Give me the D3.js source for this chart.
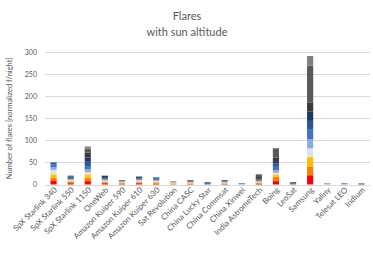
<!DOCTYPE html>
<html>
<head>
<meta charset="utf-8">
<script src="https://cdn.jsdelivr.net/npm/d3@7"></script>
<style>
body{margin:0;background:#fff;}
text{font-family:Lato, "Open Sans", sans-serif;fill:#595959;}
</style>
</head>
<body>
<svg id="chart"></svg>
<script>
var w = 373, h = 259;
var categories = ["SpX Starlink 340","SpX Starlink 550","SpX Starlink 1150","OneWeb","Amazon Kuiper 590",
	"Amazon Kuiper 610","Amazon Kuiper 630","Sat Revolution","China CASC","China Lucky Star","China Commsat",
	"China Xinwei","India AstromeTech","Boing","LeoSat","Samsung","Yaliny","Telesat LEO","Iridium"];
// sun altitude bins, bottom to top
var bins = ["b1","b2","b3","b4","b5","b6","b7","b8","b9","b10","b11"];
var colors = ["#ff0000","#ff8000","#ffc000","#dae3f3","#8faadc","#4472c4","#2f5597","#1f3864","#3a3a3a","#595959","#808080"];
var b1  = [8, 3, 7.6, 3, 1, 3, 2, 0.5, 1, 0, 1, 0, 2, 7.6, 0, 21, 0, 0, 0];
var b2  = [7, 3, 7.6, 2, 2, 2, 2, 1, 1, 0, 1, 0, 1.5, 9.8, 0, 20, 0, 0, 0];
var b3  = [8, 2, 7.6, 2, 2, 2, 2, 1.5, 1.5, 0, 1.5, 0, 1.5, 5.3, 0, 21, 0, 0, 0];
var b4  = [10, 2, 5.3, 2, 1, 2, 2, 1, 1, 0, 1, 0, 1.5, 3.8, 0, 20, 0, 0, 0];
var b5  = [6, 2, 6, 2, 1, 2, 2, 1.5, 1, 0, 1, 1, 1.5, 6, 0, 20, 1, 0.5, 0];
var b6  = [6, 3, 7.6, 2, 1, 2, 2, 1, 1, 1, 1.5, 1, 1.5, 7.6, 1, 22, 1, 1.5, 0];
var b7  = [5, 3, 11.4, 2, 1, 2, 2, 0.5, 1, 1, 1.5, 1, 1.5, 7.6, 1, 20, 0.5, 1, 0];
var b8  = [0, 2, 7.6, 2, 1, 2, 2, 0, 1.5, 1, 1.5, 0, 2, 5.3, 1, 21, 0, 0, 0];
var b9  = [0, 0, 11.4, 3, 0, 1, 0, 0, 1, 2, 0, 0, 4, 7.6, 2, 21, 0, 0, 0];
var b10 = [0, 0, 9, 0, 0, 0, 0, 0, 0, 0, 0, 0, 6, 20, 0, 83, 0, 0, 2.5];
var b11 = [0, 0, 5, 0, 0, 0, 0, 0, 0, 0, 0, 0, 0, 2, 0, 22, 0, 0, 0];
var yTicks = [0, 50, 100, 150, 200, 250, 300];

var series = [b1,b2,b3,b4,b5,b6,b7,b8,b9,b10,b11];
var table = categories.map(function(c, i){
	var row = {cat: c};
	bins.forEach(function(b, k){ row[b] = series[k][i]; });
	return row;
});

var svg = d3.select("#chart").attr("width", w).attr("height", h);
var m = {left: 45, right: 3, top: 52, bottom: 74.5};
var x = d3.scaleBand().domain(categories).range([m.left, w - m.right]).paddingInner(0.64).paddingOuter(0.32);
var y = d3.scaleLinear().domain([0, 300]).range([h - m.bottom, m.top]);

var grid = svg.append("g");
grid.selectAll("line").data(yTicks).enter().append("line")
	.attr("x1", m.left).attr("x2", w - m.right)
	.attr("y1", function(d){ return Math.round(y(d)) + 0.5; })
	.attr("y2", function(d){ return Math.round(y(d)) + 0.5; })
	.attr("stroke", "#d9d9d9").attr("stroke-width", 1);

var stack = d3.stack().keys(bins)(table);
svg.append("g").selectAll("g").data(stack).enter().append("g")
	.attr("fill", function(d, i){ return colors[i]; })
	.selectAll("rect").data(function(d){ return d; }).enter().append("rect")
	.attr("x", function(d){ return x(d.data.cat); })
	.attr("width", x.bandwidth())
	.attr("y", function(d){ return y(d[1]); })
	.attr("height", function(d){ return Math.max(0, y(d[0]) - y(d[1])); });

var yAxis = svg.append("g").attr("transform", "translate(" + (m.left - 5) + ",0)")
	.call(d3.axisLeft(y).tickValues(yTicks).tickSize(0).tickPadding(3));
yAxis.select(".domain").remove();
yAxis.selectAll("text").style("font-size", "7px").style("fill", "#595959");

var xAxis = svg.append("g").attr("transform", "translate(0," + (h - m.bottom) + ")")
	.call(d3.axisBottom(x).tickSize(0).tickPadding(0));
xAxis.select(".domain").remove();
xAxis.selectAll("text").style("font-size", "8px").style("fill", "#595959")
	.attr("text-anchor", "end").attr("dy", 0)
	.attr("transform", "translate(4,6) rotate(-45)");

svg.append("text").attr("transform", "translate(12," + ((m.top + h - m.bottom) / 2) + ") rotate(-90)")
	.attr("text-anchor", "middle").style("font-size", "7.5px").text("Number of flares [normalized f/night]");

svg.append("text").attr("x", 187).attr("y", 20).attr("text-anchor", "middle")
	.style("font-size", "11px").text("Flares");
svg.append("text").attr("x", 187).attr("y", 36).attr("text-anchor", "middle")
	.style("font-size", "11px").text("with sun altitude");
</script>
</body>
</html>
